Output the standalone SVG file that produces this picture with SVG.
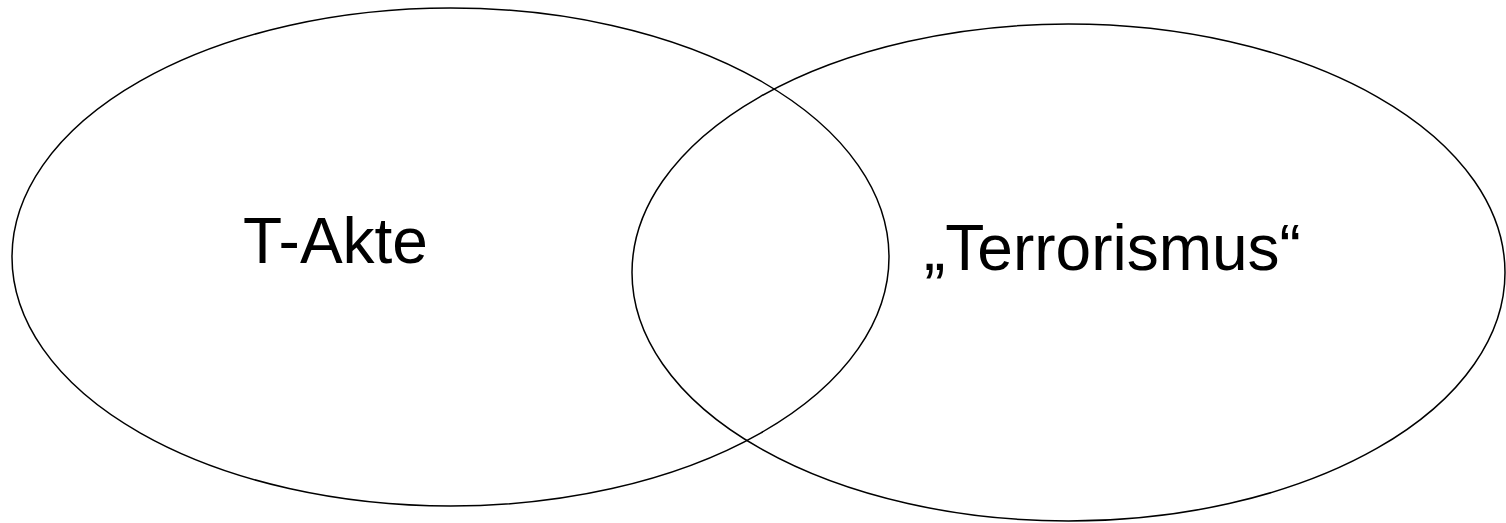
<svg xmlns="http://www.w3.org/2000/svg" width="1506" height="523" viewBox="0 0 1506 523">
<style>
.set{fill:none;stroke:#000;stroke-width:1.5}
.lbl{font-family:"Liberation Sans",Arial,sans-serif;font-size:64px;fill:#000}
</style>
<rect width="1506" height="523" fill="#fff"/>
<g id="t-akte">
<ellipse class="set" cx="450.5" cy="257" rx="438.5" ry="249"/>
<text class="lbl" x="243" y="263">T-Akte</text>
</g>
<g id="terrorismus">
<ellipse class="set" cx="1068.5" cy="272.5" rx="436.5" ry="248.5"/>
<text class="lbl" x="924" y="270">„Terrorismus“</text>
</g>
<g id="connectors"></g>
</svg>
